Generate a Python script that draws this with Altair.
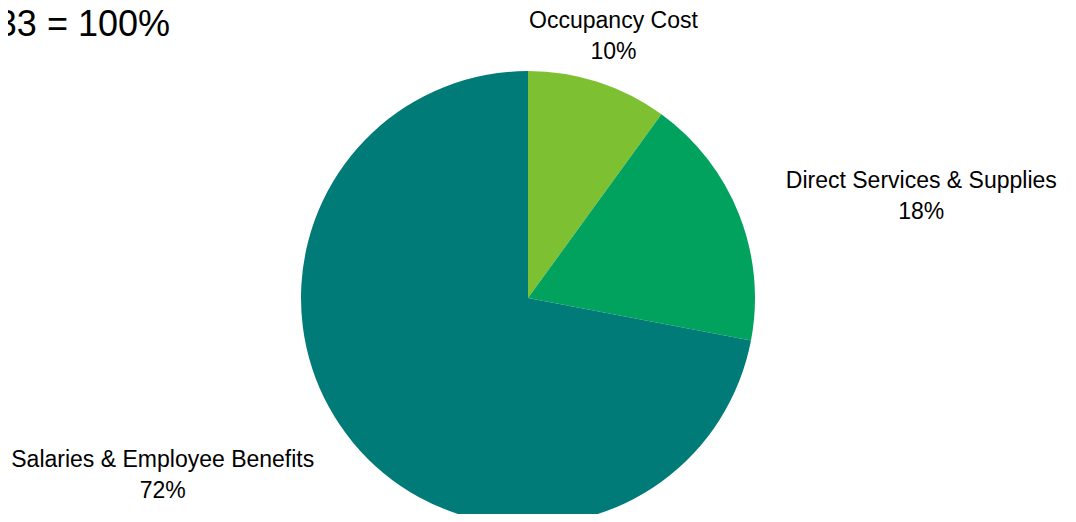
import altair as alt
import pandas as pd

categories = ["Occupancy Cost", "Direct Services & Supplies", "Salaries & Employee Benefits"]
percents = [10, 18, 72]
colors = ["#7DC031", "#00A25E", "#007B78"]
title_text = "33 = 100%"

df = pd.DataFrame({"category": categories, "value": percents})

FONT = "Liberation Sans"
CX, CY = 520, 290

base = alt.Chart(df).transform_window(
    idx="row_number()", cum="sum(value)"
).transform_calculate(
    mid="datum.cum - datum.value / 2",
    label="datum.category + '|' + datum.value + '%'",
)

arc = base.mark_arc(radius=227, stroke=None).encode(
    theta=alt.Theta("value:Q", stack=True, scale=alt.Scale(domain=[0, 100])),
    color=alt.Color("category:N", scale=alt.Scale(domain=categories, range=colors), legend=None),
    order=alt.Order("idx:Q"),
    x=alt.value(CX),
    y=alt.value(CY),
)


def label_layer(cat, radius, dx, dy):
    return base.transform_filter(alt.datum.category == cat).mark_text(
        radius=radius, dx=dx, dy=dy, font=FONT, fontSize=23, lineBreak="|",
        lineHeight=31, align="center", baseline="alphabetic", color="#000000",
    ).encode(
        theta=alt.Theta("mid:Q", stack=None, scale=alt.Scale(domain=[0, 100])),
        text="label:N",
        x=alt.value(CX),
        y=alt.value(CY),
    )


lab1 = label_layer(categories[0], 283, -2, -1)
lab2 = label_layer(categories[1], 423, 0, 46)
lab3 = label_layer(categories[2], 474, 0, -133)

title = alt.Chart(pd.DataFrame({"t": [title_text]})).mark_text(
    font=FONT, fontSize=36, align="right", baseline="alphabetic", color="#000000"
).encode(text="t:N", x=alt.value(162), y=alt.value(28))

chart = alt.layer(arc, lab1, lab2, lab3, title).properties(
    width=1060, height=506, padding=0,
    autosize=alt.AutoSizeParams(type="none"),
).configure_view(stroke=None)

chart.save("out.html", embed_options={"renderer": "svg", "actions": False})
